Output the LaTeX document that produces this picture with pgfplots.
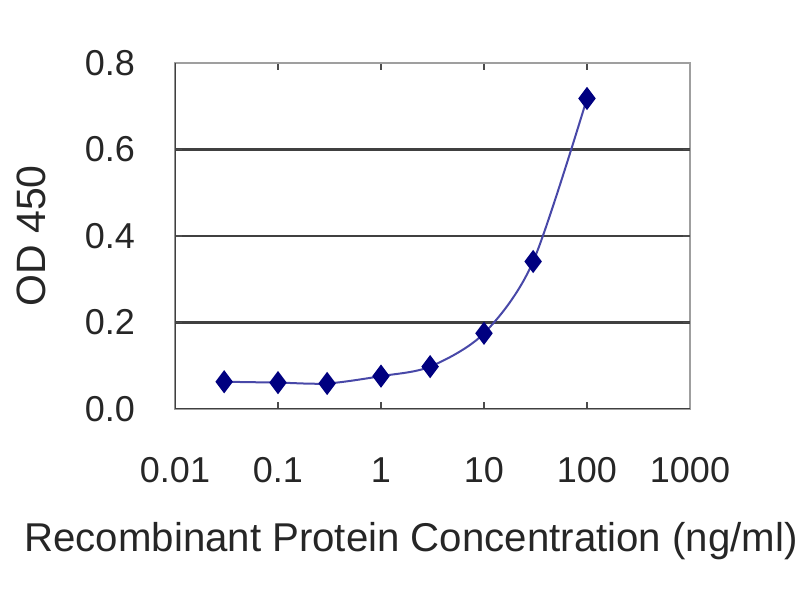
\documentclass[border=0pt]{standalone}
\usepackage{pgfplots}
\pgfplotsset{compat=1.18}
\usepackage{fontspec}
\setmainfont{Liberation Sans}
\definecolor{navy}{HTML}{000080}
\definecolor{curve}{HTML}{4848A8}
\begin{document}
\begin{tikzpicture}
\path[use as bounding box] (0,0) rectangle (400pt,300pt);
\begin{axis}[
  at={(87.5pt,95.5pt)}, anchor=south west,
  scale only axis, width=257.5pt, height=173pt,
  xmode=log, xmin=0.01, xmax=1000, ymin=0, ymax=0.8,
  xtick={0.01,0.1,1,10,100,1000},
  xticklabels={0.01,0.1,1,10,100,1000},
  ytick={0,0.2,0.4,0.6,0.8},
  yticklabels={0.0,0.2,0.4,0.6,0.8},
  xminorticks=false,
  extra y ticks={0.2,0.4,0.6},
  extra y tick labels={},
  extra y tick style={grid=major, major grid style={black!75, line width=1.4pt}},
  tick align=inside, major tick length=3.5pt,
  tick style={black!70, line width=0.8pt},
  axis line style={gray!75, line width=0.9pt},
  xticklabel style={font=\fontsize{18}{18}\selectfont, text=black!85, anchor=base, yshift=-37pt},
  yticklabel style={font=\fontsize{18}{18}\selectfont, text=black!85, anchor=east, xshift=-16.5pt},
  xlabel={Recombinant Protein Concentration (ng/ml)},
  xlabel style={at={(axis description cs:0.4583,-0.413)}, anchor=base, font=\fontsize{20.1}{20.1}\selectfont, text=black!85},
  ylabel={OD 450},
  ylabel style={at={(axis description cs:-0.2796,0.5)}, anchor=center, font=\fontsize{20.5}{20.5}\selectfont, text=black!85},
]
\addplot[color=curve, line width=1pt, smooth, mark=diamond*, mark size=5pt,
  mark options={fill=navy, draw=navy, solid}]
  coordinates {(0.03,0.063)(0.1,0.061)(0.3,0.059)(1,0.076)(3,0.098)(10,0.175)(30,0.341)(100,0.718)};
\draw[black!75, line width=1pt] (rel axis cs:0,1) -- (rel axis cs:0,0) -- (rel axis cs:1,0);
\end{axis}
\end{tikzpicture}
\end{document}
